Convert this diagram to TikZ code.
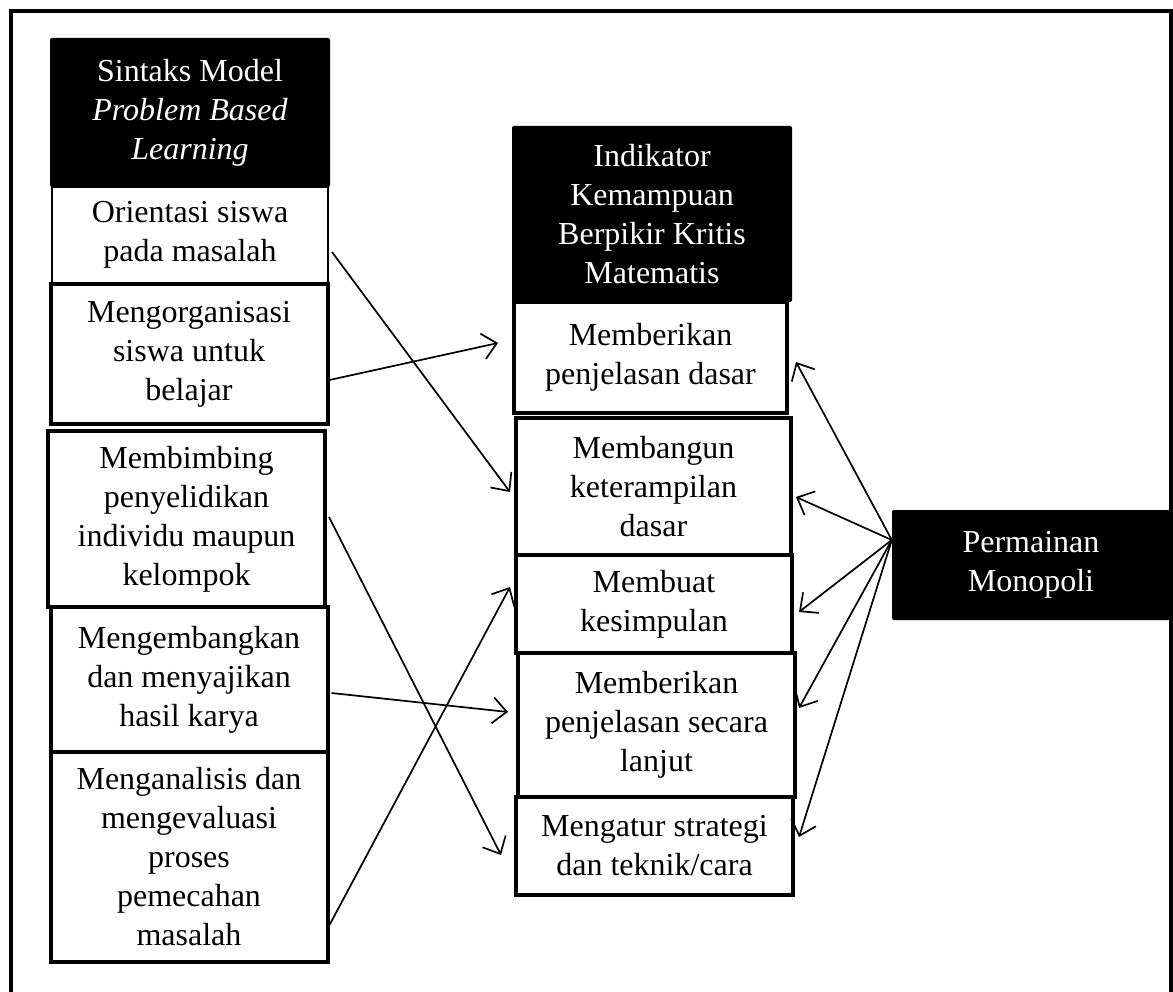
\documentclass[tikz,border=0pt]{standalone}
\usepackage{fontspec}
\setmainfont{Liberation Serif}
\usetikzlibrary{arrows.meta}

\begin{document}
\begin{tikzpicture}[x=1pt,y=-1pt,
    font=\fontsize{32}{39}\selectfont,
    box/.style={draw, line width=4pt, align=center, inner sep=0pt, minimum width=277pt},
    hdr/.style={fill=black, text=white, align=center, inner sep=0pt, minimum width=280pt, rounded corners=2pt},
    conn/.style={line width=1.7pt, -{Straight Barb[length=14pt,width=26pt,line width=1.7pt]}}]

                    \useasboundingbox (0,0) rectangle (1173,992);
                    \draw[line width=4.5pt] (11,1010) -- (11,11) -- (1171,11) -- (1171,1010);

                    % kolom sintaks
                    \node[hdr, minimum height=149pt] (sintaks) at (190,112.5) {Sintaks Model\\ \textit{Problem Based}\\ \textit{Learning}};
                    \node[box, minimum height=96pt, minimum width=276pt, line width=2pt] (orient) at (190,235) {Orientasi siswa\\ pada masalah};
                    \node[box, minimum height=140pt] (organ) at (189,354) {Mengorganisasi\\ siswa untuk\\ belajar};
                    \node[box, minimum height=176pt] (bimbing) at (186.5,519) {Membimbing\\ penyelidikan\\ individu maupun\\ kelompok};
                    \node[box, minimum height=145pt] (kembang) at (189,679.5) {Mengembangkan\\ dan menyajikan\\ hasil karya};
                    \node[box, minimum height=210pt] (analisis) at (189,857) {Menganalisis dan\\ mengevaluasi\\ proses\\ pemecahan\\ masalah};

                    % kolom indikator
                    \node[hdr, minimum height=176pt] (indikator) at (652,214) {Indikator\\ Kemampuan\\ Berpikir Kritis\\ Matematis};
                    \node[box, minimum height=111pt, minimum width=273pt] (dasar) at (650.5,357.5) {Memberikan\\ penjelasan dasar};
                    \node[box, minimum height=137pt, minimum width=275pt] (bangun) at (653.5,486.5) {Membangun\\ keterampilan\\ dasar};
                    \node[box, minimum height=98pt, minimum width=276pt] (simpul) at (654,604) {Membuat\\ kesimpulan};
                    \node[box, minimum height=144pt] (lanjut) at (656.5,725) {Memberikan\\ penjelasan secara\\ lanjut};
                    \node[box, minimum height=98pt] (atur) at (654.5,846) {Mengatur strategi\\ dan teknik/cara};

                    % permainan
                    \node[hdr, minimum height=110pt, minimum width=278pt] (mono) at (1031,565) {Permainan\\ Monopoli};
                    \coordinate (src) at ([yshift=25pt]mono.west);

                    \draw[conn] ([xshift=3pt,yshift=-17pt]orient.east) -- ([xshift=-4pt,yshift=-5.5pt]bangun.west);
                    \draw[conn] ([yshift=-26pt]organ.east) -- ([xshift=-14pt,yshift=14.5pt]dasar.west);
                    \draw[conn] ([xshift=2pt,yshift=2pt]bimbing.east) -- ([xshift=-13pt,yshift=-9pt]atur.west);
                    \draw[conn] ([xshift=2pt,yshift=-13.5pt]kembang.east) -- ([xshift=-8pt,yshift=13pt]lanjut.west);
                    \draw[conn] ([yshift=-68pt]analisis.east) -- ([xshift=-4pt,yshift=17pt]simpul.west);

                    \draw[conn] (src) -- ([xshift=7pt,yshift=-4.5pt]dasar.east);
                    \draw[conn] (src) -- ([xshift=3pt,yshift=-10.5pt]bangun.east);
                    \draw[conn] (src) -- ([xshift=5pt,yshift=-8pt]simpul.east);
                    \draw[conn] (src) -- ([xshift=2pt,yshift=17pt]lanjut.east);
                    \draw[conn] (src) -- ([xshift=4pt,yshift=9pt]atur.east);
                \end{tikzpicture}
\end{document}
